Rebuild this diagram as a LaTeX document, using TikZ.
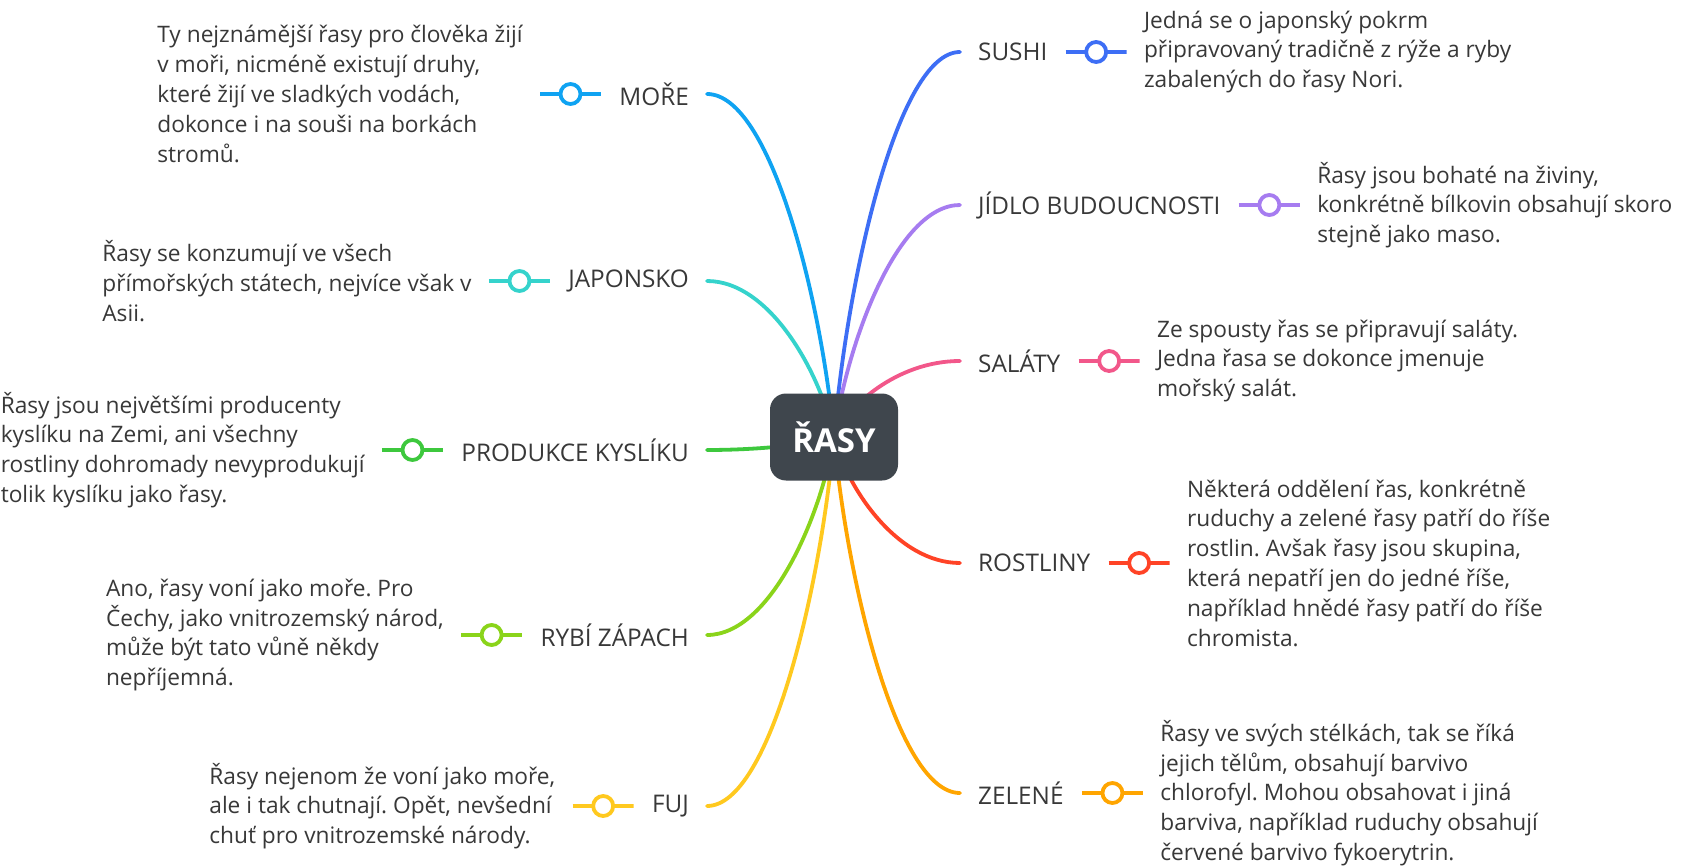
\documentclass[tikz,border=0pt]{standalone}
\usepackage{fontspec}
\setmainfont{Open Sans}
\usetikzlibrary{positioning,calc,backgrounds}
\frenchspacing

\definecolor{rootC}{HTML}{3F464D}
\definecolor{textC}{HTML}{383838}
\definecolor{moreC}{HTML}{0FA3F2}
\definecolor{japonskoC}{HTML}{35D3CC}
\definecolor{kyslikC}{HTML}{3DC83D}
\definecolor{zapachC}{HTML}{8AD41A}
\definecolor{fujC}{HTML}{FFC91F}
\definecolor{sushiC}{HTML}{3D6EF5}
\definecolor{jidloC}{HTML}{A67CF0}
\definecolor{salatyC}{HTML}{F2578A}
\definecolor{rostlinyC}{HTML}{FF4326}
\definecolor{zeleneC}{HTML}{FFA500}

\tikzset{
  topic/.style={font=\fontsize{24.3}{30}\selectfont, text=textC, inner xsep=18pt, inner ysep=0pt},
  note/.style={font=\fontsize{22.7}{29.8}\selectfont, text=textC, align=left, inner sep=0pt},
  marker/.style={minimum width=61pt, minimum height=28pt, inner sep=0pt,
    path picture={
      \draw[line width=3.8pt, #1] (path picture bounding box.west) -- (path picture bounding box.east);
      \draw[line width=3.8pt, #1, fill=white] (path picture bounding box.center) circle (10pt);
    }},
  conn/.style={line width=3.8pt, line cap=round},
}

\begin{document}
\begin{tikzpicture}[x=1pt, y=-1pt]
    \useasboundingbox (0,0) rectangle (1686,866);
    %% root
    \node[fill=rootC, rounded corners=16pt, minimum width=128pt, minimum height=87pt,
          text=white, font=\fontsize{33}{38}\selectfont\bfseries] (root) at (834,437) {ŘASY};
    %% right branches
    \node[topic, anchor=west] (sushi) at (960,52) {SUSHI};
    \node[marker=sushiC, right=0pt of sushi] (mSushi) {};
    \node[note, right=17pt of mSushi] (nSushi) {Jedná se o japonský pokrm\\připravovaný tradičně z rýže a ryby\\zabalených do řasy Nori.};

    \node[topic, anchor=west] (jidlo) at (960,205) {JÍDLO BUDOUCNOSTI};
    \node[marker=jidloC, right=0pt of jidlo] (mJidlo) {};
    \node[note, right=17pt of mJidlo] (nJidlo) {Řasy jsou bohaté na živiny,\\konkrétně bílkovin obsahují skoro\\stejně jako maso.};

    \node[topic, anchor=west] (salaty) at (960,361) {SALÁTY};
    \node[marker=salatyC, right=0pt of salaty] (mSalaty) {};
    \node[note, right=17pt of mSalaty] (nSalaty) {Ze spousty řas se připravují saláty.\\Jedna řasa se dokonce jmenuje\\mořský salát.};

    \node[topic, anchor=west] (rostliny) at (960,563) {ROSTLINY};
    \node[marker=rostlinyC, right=0pt of rostliny] (mRostliny) {};
    \node[note, right=17pt of mRostliny] (nRostliny) {Některá oddělení řas, konkrétně\\ruduchy a zelené řasy patří do říše\\rostlin. Avšak řasy jsou skupina,\\která nepatří jen do jedné říše,\\například hnědé řasy patří do říše\\chromista.};

    \node[topic, anchor=west] (zelene) at (960,793) {ZELENÉ};
    \node[marker=zeleneC, right=0pt of zelene] (mZelene) {};
    \node[note, right=17pt of mZelene] (nZelene) {Řasy ve svých stélkách, tak se říká\\jejich tělům, obsahují barvivo\\chlorofyl. Mohou obsahovat i jiná\\barviva, například ruduchy obsahují\\červené barvivo fykoerytrin.};
    %% left branches
    \node[topic, anchor=east] (more) at (707,94) {MOŘE};
    \node[marker=moreC, left=0pt of more] (mMore) {};
    \node[note, left=17pt of mMore] (nMore) {Ty nejznámější řasy pro člověka žijí\\v moři, nicméně existují druhy,\\které žijí ve sladkých vodách,\\dokonce i na souši na borkách\\stromů.};

    \node[topic, anchor=east] (japonsko) at (707,281) {JAPONSKO};
    \node[marker=japonskoC, left=0pt of japonsko] (mJaponsko) {};
    \node[note, left=17pt of mJaponsko] (nJaponsko) {Řasy se konzumují ve všech\\přímořských státech, nejvíce však v\\Asii.};

    \node[topic, anchor=east] (kyslik) at (707,450) {PRODUKCE KYSLÍKU};
    \node[marker=kyslikC, left=0pt of kyslik] (mKyslik) {};
    \node[note, left=17pt of mKyslik] (nKyslik) {Řasy jsou největšími producenty\\kyslíku na Zemi, ani všechny\\rostliny dohromady nevyprodukují\\tolik kyslíku jako řasy.};

    \node[topic, anchor=east] (zapach) at (707,635) {RYBÍ ZÁPACH};
    \node[marker=zapachC, left=0pt of zapach] (mZapach) {};
    \node[note, left=17pt of mZapach] (nZapach) {Ano, řasy voní jako moře. Pro\\Čechy, jako vnitrozemský národ,\\může být tato vůně někdy\\nepříjemná.};

    \node[topic, anchor=east] (fuj) at (707,806) {FUJ};
    \node[marker=fujC, left=0pt of fuj] (mFuj) {};
    \node[note, left=17pt of mFuj] (nFuj) {Řasy nejenom že voní jako moře,\\ale i tak chutnají. Opět, nevšední\\chuť pro vnitrozemské národy.};
    %% connectors
    \begin{scope}[on background layer]
        \fill[white] (0,0) rectangle (1686,866);
        \foreach \br/\a/\c in {sushi/west/sushiC, jidlo/west/jidloC, salaty/west/salatyC,
                              rostliny/west/rostlinyC, zelene/west/zeleneC, more/east/moreC,
                              japonsko/east/japonskoC, kyslik/east/kyslikC, zapach/east/zapachC, fuj/east/fujC}
            \draw[conn, \c] let \p1=(root.center), \p2=(\br.\a) in
                (\p1) .. controls ({\x1+0.1*(\x2-\x1)},{\y1+0.4*(\y2-\y1)}) and ({0.5*(\x1+\x2)},\y2) .. (\p2);
    \end{scope}
\end{tikzpicture}
\end{document}
